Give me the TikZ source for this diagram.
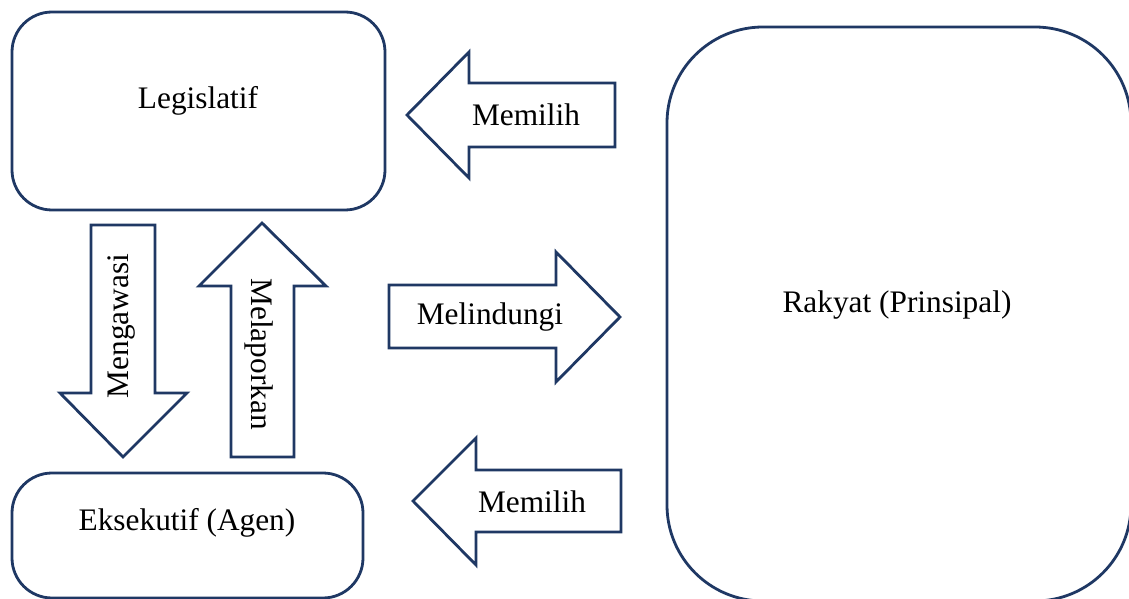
\documentclass[tikz,border=0pt]{standalone}
\usepackage{fontspec}
\setmainfont{Liberation Serif}
\usepackage{tikz}

\definecolor{garis}{HTML}{1F3864}

\begin{document}
\begin{tikzpicture}[x=0.75pt,y=-0.75pt,
	font=\fontsize{23.5}{28}\selectfont,
	kotak/.style={draw=garis, line width=2.1pt, fill=white},
	panah/.style={draw=garis, line width=2.1pt, fill=white, line join=miter}]
	\useasboundingbox (0,0) rectangle (1129,599);
	% kotak-kotak
	\draw[kotak, rounded corners=30] (12,12) rectangle (385,210);
	\node (legis) at (198,101) {Legislatif};
	\draw[kotak, rounded corners=30] (12,473) rectangle (363,598);
	\node (eksek) at (187,523) {Eksekutif (Agen)};
	\draw[kotak, rounded corners=72] (667,27) rectangle (1131,601);
	\node (rakyat) at (897,305) {Rakyat (Prinsipal)};
	% panah ke kiri (atas)
	\draw[panah] (615,83) -- (469,83) -- (469,52) -- (407,115) -- (469,178) -- (469,147) -- (615,147) -- cycle;
	\node (pilihA) at (526,115) {Memilih};
	% panah ke kanan
	\draw[panah] (389,285) -- (556,285) -- (556,252) -- (620,317) -- (556,382) -- (556,348) -- (389,348) -- cycle;
	\node (lindungi) at (490,317) {Melindungi};
	% panah ke kiri (bawah)
	\draw[panah] (621,470) -- (476,470) -- (476,438) -- (413,501) -- (476,565) -- (476,532) -- (621,532) -- cycle;
	\node (pilihB) at (532,502) {Memilih};
	% panah ke bawah
	\draw[panah] (91,225) -- (155,225) -- (155,393) -- (187,393) -- (123,457) -- (60,393) -- (91,393) -- cycle;
	\node[rotate=90] (awasi) at (122,326) {Mengawasi};
	% panah ke atas
	\draw[panah] (231,457) -- (231,286) -- (199,286) -- (262,223) -- (326,286) -- (294,286) -- (294,457) -- cycle;
	\node[rotate=-90] (lapor) at (259,354) {Melaporkan};
\end{tikzpicture}
\end{document}
